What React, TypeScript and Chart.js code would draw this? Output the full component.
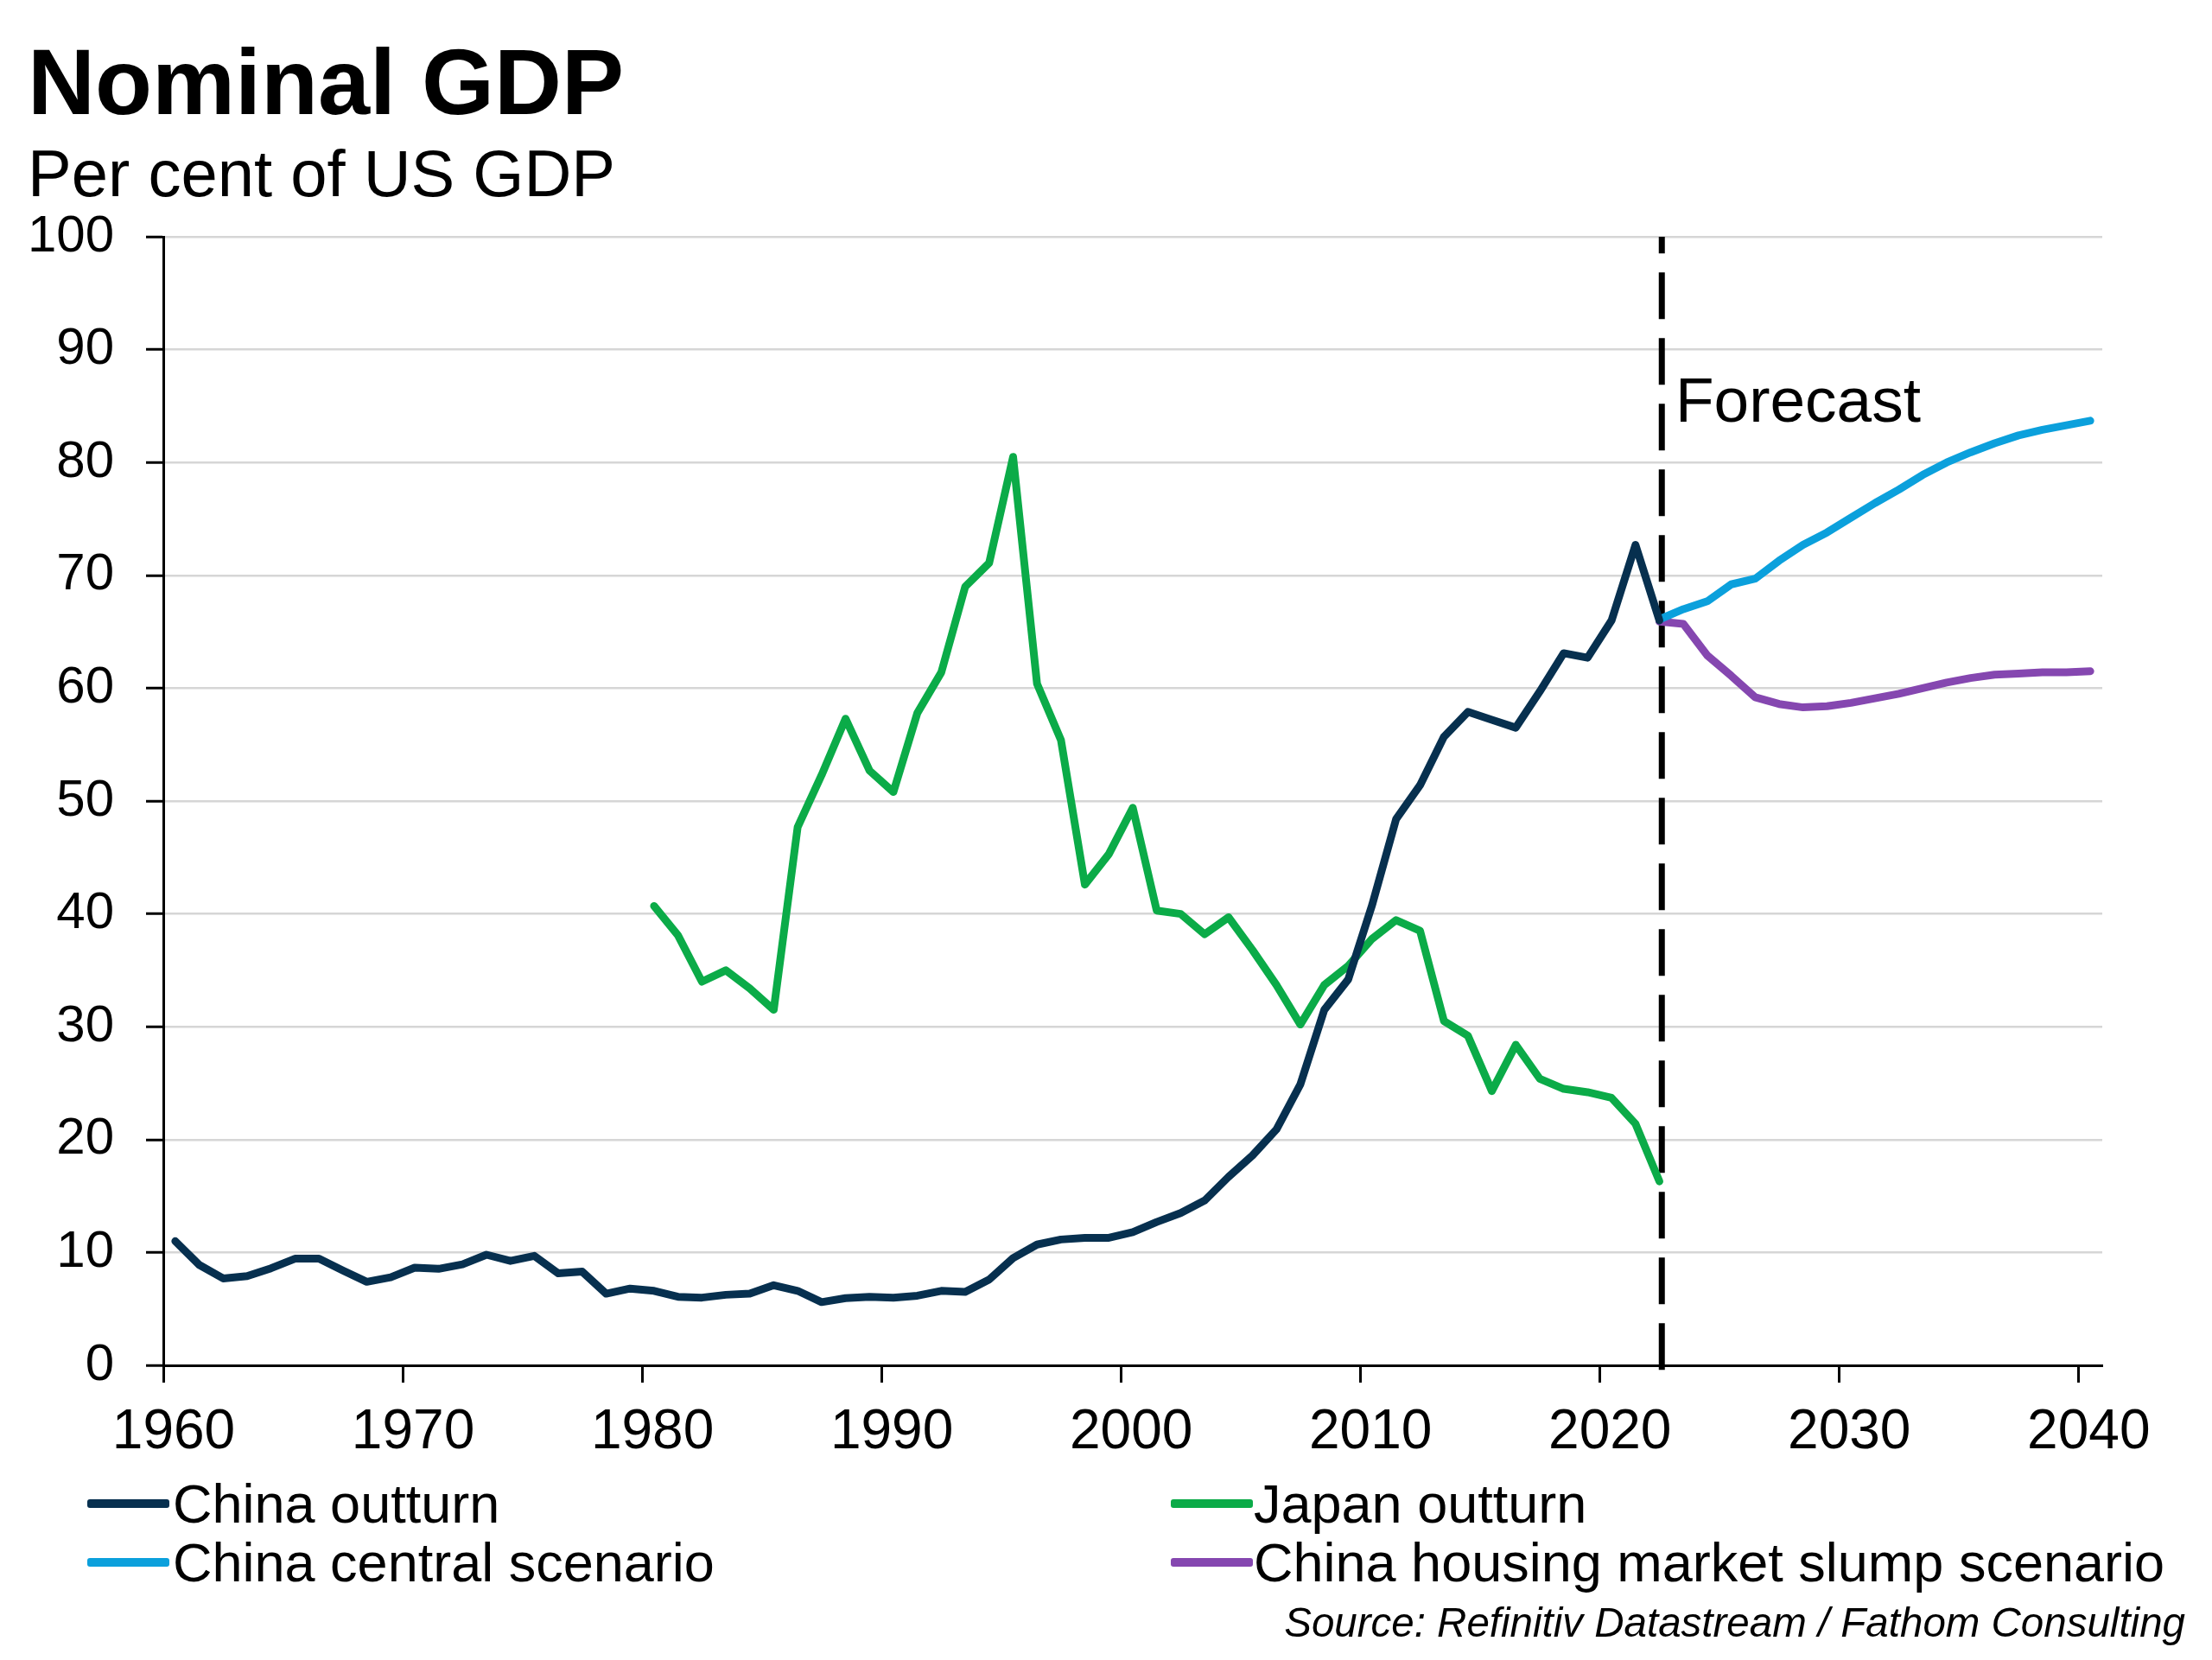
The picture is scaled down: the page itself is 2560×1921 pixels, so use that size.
import React, { useEffect, useRef } from "react";
import { Chart, registerables } from "chart.js";

Chart.register(...registerables);

const FONT = "'Liberation Sans', Arial, Helvetica, sans-serif";

const TITLE = "Nominal GDP";
const SUBTITLE = "Per cent of US GDP";
const SOURCE = "Source: Refinitiv Datastream / Fathom Consulting";
const FORECAST_LABEL = "Forecast";

// China outturn, per cent of US GDP, 1960..2022
const chinaStartYear = 1960;
const chinaOutturn = [
  11.0, 8.9, 7.7, 7.9, 8.6, 9.45, 9.45, 8.4, 7.4, 7.8,
  8.65, 8.55, 8.95, 9.8, 9.25, 9.7, 8.15, 8.3, 6.35, 6.8,
  6.6, 6.07, 6.0, 6.25, 6.35, 7.1, 6.6, 5.6, 5.95, 6.07,
  6.0, 6.17, 6.6, 6.5, 7.6, 9.5, 10.7, 11.15, 11.3, 11.3,
  11.8, 12.7, 13.5, 14.6, 16.7, 18.6, 20.9, 24.9, 31.5, 34.2,
  40.8, 48.4, 51.4, 55.7, 57.9, 57.2, 56.5, 59.7, 63.1, 62.7,
  66.0, 72.7, 66.0,
];

// Japan outturn, per cent of US GDP, 1980..2022
const japanStartYear = 1980;
const japanOutturn = [
  40.7, 38.1, 34.0, 35.0, 33.4, 31.5, 47.7, 52.3, 57.3, 52.7,
  50.8, 57.8, 61.4, 69.0, 71.1, 80.5, 60.4, 55.4, 42.6, 45.3,
  49.4, 40.3, 40.0, 38.2, 39.7, 36.8, 33.7, 30.2, 33.7, 35.4,
  37.8, 39.45, 38.5, 30.5, 29.2, 24.3, 28.4, 25.4, 24.5, 24.2,
  23.7, 21.4, 16.3,
];

// Forecast scenarios, 2022..2040
const forecastStartYear = 2022;
const chinaCentral = [
  66.1, 67.0, 67.7, 69.2, 69.7, 71.3, 72.7, 73.8, 75.1, 76.4,
  77.6, 78.9, 80.0, 80.9, 81.7, 82.4, 82.9, 83.3, 83.7,
];
const chinaSlump = [
  65.9, 65.7, 62.9, 61.1, 59.2, 58.6, 58.3, 58.4, 58.7, 59.1,
  59.5, 60.0, 60.5, 60.9, 61.2, 61.3, 61.4, 61.4, 61.5,
];

// Vertical forecast marker
const forecastMarkerYear = 2022.6;
const forecastMarkerRange = [-0.4, 100];

// Axes
const xMin = 1960;
const xMax = 2041;
const xTicks = [1960, 1970, 1980, 1990, 2000, 2010, 2020, 2030, 2040];
const yTicks = [0, 10, 20, 30, 40, 50, 60, 70, 80, 90, 100];

// Series labels and colours (legend order: row by row)
const seriesLabels = [
  "China outturn",
  "Japan outturn",
  "China central scenario",
  "China housing market slump scenario",
];
const seriesColors = ["#07304f", "#0bab48", "#0ba0dc", "#8547b0"];

// Points are plotted at mid-year
const toPoints = (start: number, values: number[]) =>
  values.map((v, i) => ({ x: start + i + 0.5, y: v }));

const W = 2560;
const H = 1921;

export default function App() {
  const canvasRef = useRef<HTMLCanvasElement | null>(null);

  useEffect(() => {
    const canvas = canvasRef.current;
    if (!canvas) return;
    const lineDs = (label: string, color: string, data: any[]) => ({
      label,
      data,
      borderColor: color,
      backgroundColor: color,
      borderWidth: 9,
      pointRadius: 0,
      tension: 0,
      borderJoinStyle: "round" as const,
      borderCapStyle: "round" as const,
    });
    const chart = new Chart(canvas, {
      type: "line",
      data: {
        datasets: [
          lineDs(seriesLabels[0], seriesColors[0], toPoints(chinaStartYear, chinaOutturn)),
          lineDs(seriesLabels[1], seriesColors[1], toPoints(japanStartYear, japanOutturn)),
          lineDs(seriesLabels[2], seriesColors[2], toPoints(forecastStartYear, chinaCentral)),
          lineDs(seriesLabels[3], seriesColors[3], toPoints(forecastStartYear, chinaSlump)),
          {
            label: FORECAST_LABEL,
            data: forecastMarkerRange.map((y) => ({ x: forecastMarkerYear, y })),
            borderColor: "#000",
            borderWidth: 7,
            borderDash: [54, 22],
            borderCapStyle: "butt",
            pointRadius: 0,
            clip: false,
          } as any,
        ],
      },
      options: {
        responsive: false,
        animation: false,
        devicePixelRatio: 1,
        layout: { padding: { top: 274, right: 127, bottom: 0, left: 0 } },
        plugins: {
          legend: { display: false },
          tooltip: { enabled: false },
          title: { display: false },
        },
        scales: {
          x: {
            type: "linear",
            min: xMin,
            max: xMax,
            afterBuildTicks: (s: any) => {
              s.ticks = xTicks.map((v) => ({ value: v }));
            },
            afterFit: (s: any) => {
              s.height = 341;
            },
            grid: {
              drawOnChartArea: false,
              drawTicks: true,
              tickLength: 20,
              tickColor: "#000",
              tickWidth: 3,
            },
            border: { display: true, color: "#000", width: 3 },
            ticks: {
              color: "#000",
              font: { family: FONT, size: 64 },
              padding: 20,
              labelOffset: 12,
              maxRotation: 0,
              autoSkip: false,
              callback: (v: any) => String(v),
            },
          },
          y: {
            type: "linear",
            min: 0,
            max: 100,
            afterBuildTicks: (s: any) => {
              s.ticks = yTicks.map((v) => ({ value: v }));
            },
            afterFit: (s: any) => {
              s.width = 189;
            },
            grid: {
              color: (ctx: any) =>
                ctx.tick && ctx.tick.value === 0 ? "rgba(0,0,0,0)" : "#d6d6d6",
              lineWidth: 2.5,
              tickLength: 20,
              tickColor: "#000",
              tickWidth: 3,
            },
            border: { display: true, color: "#000", width: 3 },
            ticks: {
              color: "#000",
              font: { family: FONT, size: 60 },
              padding: 37,
              callback: (v: any) => String(v),
            },
          },
        },
      } as any,
    });
    return () => chart.destroy();
  }, []);

  const text = (fs: number, capTop: number) => ({
    position: "absolute" as const,
    fontFamily: FONT,
    fontSize: fs,
    lineHeight: `${fs}px`,
    top: capTop - 0.1305 * fs,
    color: "#000",
    whiteSpace: "nowrap" as const,
    margin: 0,
  });

  const legendCols = [
    { swatch: 101, text: 200 },
    { swatch: 1355, text: 1451 },
  ];
  const legendRows = [1740, 1808];
  const legendFs = 63;

  return (
    <div
      style={{
        position: "fixed",
        left: 0,
        top: 0,
        width: W,
        height: H,
        background: "#fff",
        overflow: "hidden",
      }}
    >
      <canvas
        ref={canvasRef}
        width={W}
        height={H}
        style={{ position: "absolute", left: 0, top: 0, width: W, height: H }}
      />
      <div style={{ ...text(108, 55), left: 32, fontWeight: 700 }}>{TITLE}</div>
      <div style={{ ...text(76, 173), left: 32 }}>{SUBTITLE}</div>
      <div style={{ ...text(73, 436), left: 1939 }}>{FORECAST_LABEL}</div>
      {seriesLabels.map((label, i) => {
        const col = legendCols[i % 2];
        const rowY = legendRows[Math.floor(i / 2)];
        return (
          <React.Fragment key={label}>
            <div
              style={{
                position: "absolute",
                left: col.swatch,
                top: rowY - 5,
                width: 95,
                height: 10,
                background: seriesColors[i],
                borderRadius: 3,
              }}
            />
            <div style={{ ...text(legendFs, rowY - 23), left: col.text }}>{label}</div>
          </React.Fragment>
        );
      })}
      <div style={{ ...text(47.5, 1860), right: 31, fontStyle: "italic" }}>{SOURCE}</div>
    </div>
  );
}
